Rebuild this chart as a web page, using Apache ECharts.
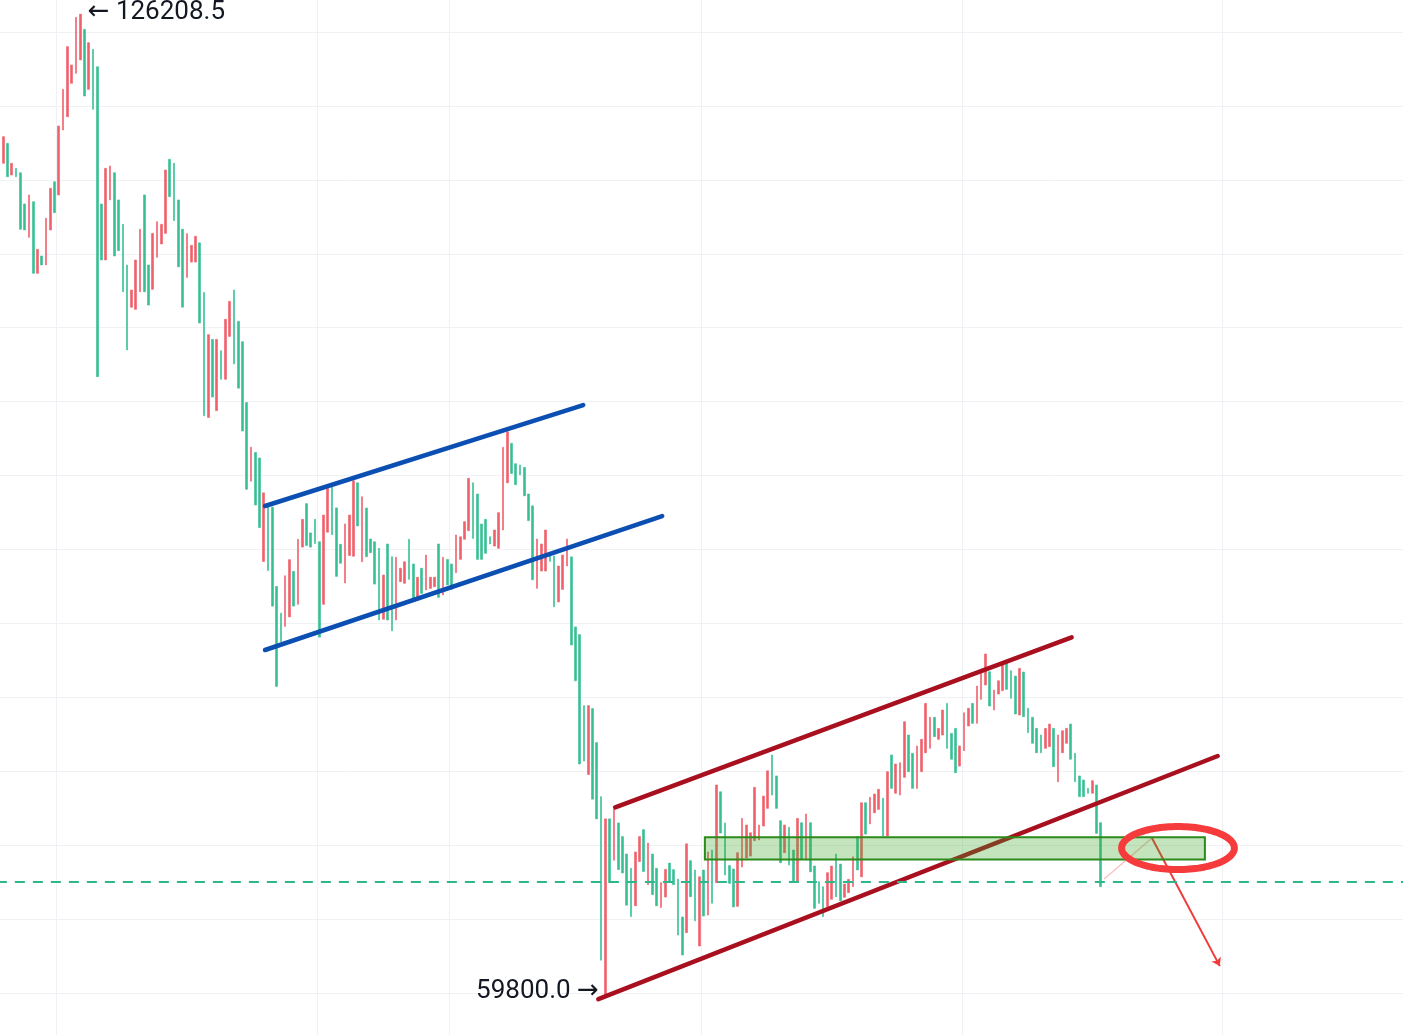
<!DOCTYPE html>
<html>
<head>
<meta charset="utf-8">
<script src="https://cdn.jsdelivr.net/npm/echarts@6/dist/echarts.min.js"></script>
<style>
  html, body { margin: 0; padding: 0; background: #ffffff; }
  #chart { width: 1403px; height: 1035px; }
</style>
</head>
<body>
<div id="chart"></div>
<script>
// DATA

// daily categories, starting 2025-09-17
const firstDay = Date.UTC(2025, 8, 17);
const dayCount = 330;
const dates = [];
for (let d = 0; d < dayCount; d++) {
  dates.push(new Date(firstDay + d * 86400000).toISOString().slice(0, 10));
}
const monthLines = ["2025-10-01", "2025-12-01", "2026-01-01", "2026-03-01", "2026-05-01", "2026-07-01"];

// 1 = up day (red), 0 = down day (green)
const up = [
  0,1,0,1,0,0,0,1,0,1,
  0,1,1,0,1,1,1,1,1,1,
  0,1,0,0,0,1,1,0,0,0,
  0,1,1,1,0,0,1,1,1,1,
  0,0,0,0,1,1,1,0,0,1,
  0,1,0,1,1,0,0,0,0,1,
  0,0,1,0,0,0,0,1,1,0,
  1,1,0,0,0,0,1,1,0,0,
  0,1,1,1,0,1,0,0,0,0,
  1,0,0,1,1,1,0,0,1,0,
  1,1,1,0,1,0,0,1,1,1,
  1,0,0,0,0,0,1,1,1,1,
  0,0,0,0,0,0,1,1,1,0,
  0,1,1,1,0,0,0,0,1,0,
  0,0,1,0,1,0,0,0,0,1,
  1,0,1,0,0,1,1,0,0,0,
  0,1,0,0,1,0,1,0,1,0,
  0,0,0,1,1,1,1,1,1,1,
  1,0,0,0,1,0,0,1,0,1,
  0,0,0,0,1,1,0,0,1,1,
  1,0,1,0,1,1,1,0,1,0,
  1,1,1,0,0,1,1,1,1,0,
  1,1,0,0,0,1,1,1,0,1,
  1,1,0,1,1,1,0,0,0,1,
  0,0,0,0,0,1,1,0,1,1,
  1,0,0,0,0,0,1,0,0
];

const highs = [
  116120,117920,117470,116120,115780,115480,113370,113980,113520,110300,
  109850,112400,114430,114870,118640,121120,124010,122770,125990,126208.5,
  125180,124280,123830,122650,113370,115780,115940,115480,113640,111990,
  109240,107550,109580,111660,113980,109240,111380,112170,111990,115670,
  116390,116120,113640,111660,111360,110570,111180,110740,107380,104530,
  104210,104210,103440,105570,106780,107550,105430,104050,99940,96920,
  96560,96190,93830,92860,92860,87500,85690,88220,89310,88520,
  90690,92040,93100,91120,92040,90520,92330,94140,94260,92810,
  90350,91730,92330,94650,94510,93570,92800,90710,90520,90080,
  88270,90370,89510,89470,88730,89170,90690,89020,88120,88730,
  89620,88120,88120,90370,89470,89330,89020,90980,90860,91880,
  94810,94510,93750,91720,92040,90860,91320,92490,96910,97960,
  97180,95800,95710,95550,93750,92950,90710,90370,91320,89760,
  89560,88880,89620,90710,89500,84760,84240,79440,79440,79240,
  76940,73280,71780,71780,72440,71500,70580,69400,68430,69540,
  70580,71050,70140,69400,68430,67470,68360,68790,68340,67710,
  65140,70090,68950,68320,67860,68320,69540,69670,74070,73610,
  71500,68620,68390,69490,71810,71360,70840,73910,71360,73320,
  75030,76100,74680,71650,71360,71210,69670,71810,71520,72110,
  71520,68590,67530,67190,68140,68590,69400,68720,67370,67690,
  69220,70570,72870,72870,73240,73460,73780,73170,74970,76100,
  75490,75580,78350,77450,76210,76710,77160,79590,78650,78650,
  77900,79140,79590,77560,77900,76710,78960,79260,79590,80760,
  81620,82930,81730,80490,81120,82300,82300,81800,81440,81960,
  81710,79260,78650,77900,77450,77900,78190,77900,77450,77740,
  77900,78190,76210,74680,74410,73840,74360,74070,71520
];

const lows = [
  114770,116120,115210,115330,115210,111660,111610,111110,108680,108680,
  109240,109240,111610,112780,113980,118370,119270,121530,122210,123110,
  120670,121120,119770,101690,109580,109580,113640,109850,110210,107430,
  103490,106380,106240,107430,107430,106530,107600,109760,110660,111380,
  113860,112240,109120,106390,108400,109440,109440,105320,99050,98930,
  100310,99390,101510,101510,104410,102550,100910,98010,94070,94620,
  93010,91480,89190,88580,86170,80740,83750,84800,85440,86170,
  86290,90160,90270,90160,90400,84070,86290,91170,91000,88180,
  89070,87740,89590,89540,91590,89170,89510,89780,87660,85230,
  85280,85230,84500,85230,87820,87710,87980,86700,86580,87030,
  87260,87370,87480,86760,86920,87600,87310,88430,89330,90690,
  91270,90750,89330,89330,89740,90370,90230,90080,91320,94510,
  95140,94380,95050,93630,91950,87950,87370,88540,88540,89200,
  86120,86450,87300,88880,83540,81120,75490,75690,74780,73110,
  71780,62220,59800,67470,68980,68350,68120,65940,65170,65900,
  68890,68220,67330,66660,65900,65780,66490,67530,67330,63920,
  62570,64080,66510,64880,63180,65210,65270,66070,67460,70820,
  67980,67420,65820,65860,68520,69130,69260,70300,70350,71290,
  72490,73390,72490,68810,69490,68660,67530,67530,69040,69040,
  68200,65730,66070,65160,65840,66340,66510,66240,66470,66780,
  67190,68320,67860,70750,71430,72190,72420,70620,70620,73840,
  73510,73390,74590,74970,73840,73840,74970,76250,76550,77340,
  77160,77450,76550,75810,74900,75350,76390,78060,78240,78240,
  79860,80830,79410,79140,80220,80450,80540,79930,78870,78800,
  78690,77610,76890,76250,76250,76550,76660,75310,74290,76250,
  76890,75810,74290,73280,73280,73510,73510,70800,67190
];

const lastPrice = 67506;

// drawings: [day index from 2025-09-17, price]
const blueUpper = [[62.3, 92940], [136.8, 99770]];
const blueLower = [[62.3, 83200], [155.3, 92260]];
const redUpper = [[144.3, 72560], [251.2, 84060]];
const redLower = [[140.35, 59590], [285.4, 76030]];
const zone = [165.3, 70530, 282.4, 69030];           // x1, top, x2, bottom
const ring = [276.1, 69805, 13.2, 1455];             // cx, cy, rx (days), ry (price)
const pathIn = [[258.8, 67710], [270.0, 70480]];
const pathOut = [[270.0, 70480], [285.9, 61820]];

// candles as [open, close, low, high]; bars are too thin to show a body
const candles = highs.map((h, k) => up[k] ? [lows[k], h, lows[k], h] : [h, lows[k], lows[k], h]);

const RED = "#f0606b";
const GREEN = "#37bf94";

// CHART
const chart = echarts.init(document.getElementById("chart"));

chart.setOption({
  animation: false,
  backgroundColor: "#ffffff",
  grid: {
    left: -3.1, top: -41.92, width: 1409.1, height: 1108.85,
    outerBoundsMode: "none", containLabel: false
  },
  xAxis: [
    {
      type: "category",
      data: dates,
      boundaryGap: true,
      axisLine: { show: false },
      axisTick: { show: false },
      axisLabel: { show: false },
      splitLine: {
        show: true,
        interval: (i, v) => monthLines.includes(v),
        lineStyle: { color: "#eff1f5", width: 1 }
      }
    },
    { type: "value", min: -0.5, max: dayCount - 0.5, show: false }
  ],
  yAxis: {
    type: "value",
    min: 55000,
    max: 130000,
    interval: 5000,
    axisLine: { show: false },
    axisTick: { show: false },
    axisLabel: { show: false },
    splitLine: { lineStyle: { color: "#eff1f5", width: 1 } }
  },
  series: [
    {
      type: "candlestick",
      xAxisIndex: 0,
      yAxisIndex: 0,
      z: 2,
      data: candles,
      barWidth: 2.2,
      itemStyle: {
        color: RED, color0: GREEN,
        borderColor: RED, borderColor0: GREEN,
        borderWidth: 0.6
      },
      markLine: {
        silent: true,
        symbol: "none",
        label: { show: false },
        lineStyle: { color: "#2fb78c", type: [10, 8], width: 2 },
        data: [{ yAxis: lastPrice }]
      },
      markPoint: {
        silent: true,
        symbol: "circle",
        symbolSize: 1,
        itemStyle: { color: "transparent" },
        label: {
          color: "#131722",
          fontSize: 26,
          fontFamily: "Roboto, 'DejaVu Sans', sans-serif"
        },
        data: [
          {
            type: "max", valueDim: "highest",
            label: { position: "right", distance: 7, offset: [0, -2], formatter: p => "← " + Number(p.value).toFixed(1) }
          },
          {
            type: "min", valueDim: "lowest",
            label: { position: "left", distance: 6, offset: [0, -4], formatter: p => Number(p.value).toFixed(1) + " →" }
          }
        ]
      }
    },
    {
      type: "lines",
      coordinateSystem: "cartesian2d",
      xAxisIndex: 1,
      yAxisIndex: 0,
      z: 3,
      silent: true,
      lineStyle: { width: 4.5, opacity: 1, cap: "round" },
      data: [
        { coords: blueUpper, lineStyle: { color: "#0b4fb3" } },
        { coords: blueLower, lineStyle: { color: "#0b4fb3" } },
        { coords: redUpper, lineStyle: { color: "#a8101f" } },
        { coords: redLower, lineStyle: { color: "#a8101f" } }
      ]
    },
    {
      type: "lines",
      coordinateSystem: "cartesian2d",
      xAxisIndex: 1,
      yAxisIndex: 0,
      z: 3,
      silent: true,
      lineStyle: { width: 1.5, opacity: 0.3, color: "#f03a3a" },
      data: [{ coords: pathIn }]
    },
    {
      type: "lines",
      coordinateSystem: "cartesian2d",
      xAxisIndex: 1,
      yAxisIndex: 0,
      z: 3,
      silent: true,
      symbol: ["none", "arrow"],
      symbolSize: 8,
      lineStyle: { width: 2, opacity: 1, color: "#f03a3a" },
      data: [{ coords: pathOut }]
    },
    {
      type: "custom",
      xAxisIndex: 1,
      yAxisIndex: 0,
      z: 4,
      silent: true,
      data: [zone],
      encode: { x: [0, 2], y: [1, 3] },
      renderItem: (params, api) => {
        const a = api.coord([api.value(0), api.value(1)]);
        const b = api.coord([api.value(2), api.value(3)]);
        return {
          type: "rect",
          shape: { x: a[0], y: a[1], width: b[0] - a[0], height: b[1] - a[1] },
          style: { fill: "rgba(60,165,40,0.3)", stroke: "#2b8a1a", lineWidth: 2 }
        };
      }
    },
    {
      type: "custom",
      xAxisIndex: 1,
      yAxisIndex: 0,
      z: 5,
      silent: true,
      data: [ring],
      encode: { x: 0, y: 1 },
      renderItem: (params, api) => {
        const c = api.coord([api.value(0), api.value(1)]);
        const s = api.size([api.value(2), api.value(3)]);
        const pts = [];
        for (let t = 0; t < 120; t++) {
          const a = t / 120 * Math.PI * 2;
          pts.push([c[0] + Math.abs(s[0]) * Math.cos(a), c[1] + Math.abs(s[1]) * Math.sin(a)]);
        }
        return {
          type: "polygon",
          shape: { points: pts },
          style: { fill: "none", stroke: "#f53b3b", lineWidth: 7 }
        };
      }
    }
  ]
});
</script>
</body>
</html>
